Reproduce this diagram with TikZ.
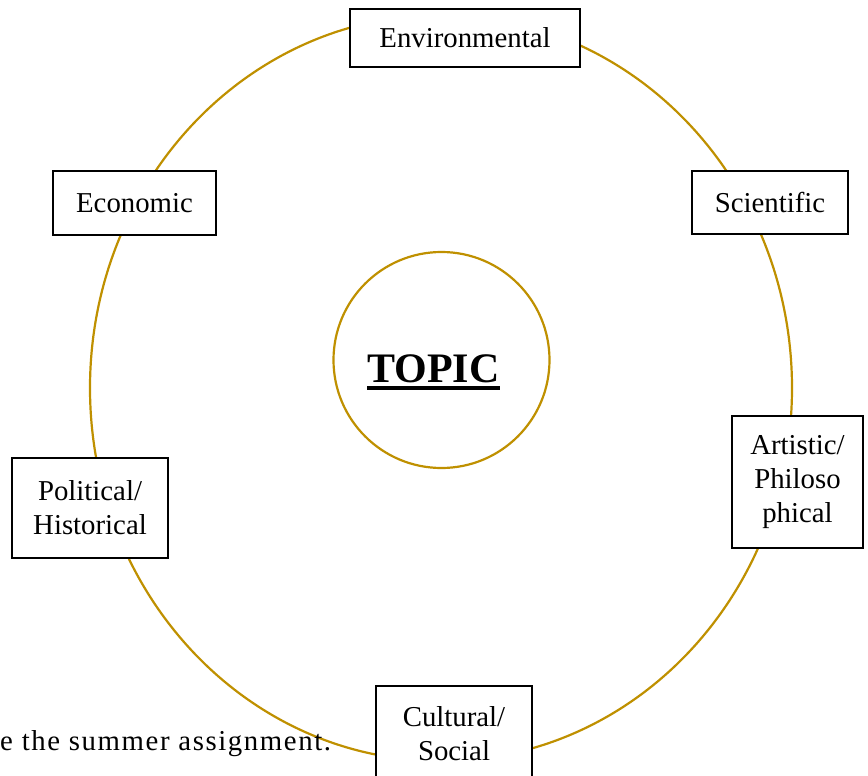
\documentclass[tikz,border=0pt]{standalone}
\usepackage{fontspec}
\setmainfont{Liberation Serif}
\definecolor{gold}{RGB}{191,144,0}
\newcommand\thickul[1]{\setbox0\hbox{#1}\rlap{\rule[-7.5pt]{\wd0}{4pt}}\box0}
\begin{document}
\begin{tikzpicture}[x=1pt,y=-1pt,
  ring/.style={draw=gold,line width=2.2pt},
  box/.style={draw,line width=2pt,fill=white,inner sep=0pt,align=center,
    font=\fontsize{28.8}{34}\selectfont}]
\useasboundingbox (0,0) rectangle (868,776);
\draw[ring](441,388) ellipse [x radius=351,y radius=373];
\node[circle,ring,minimum size=216pt,inner sep=0pt](hub) at (441.5,360){};
\node[anchor=base,font=\fontsize{42}{48}\selectfont\bfseries](topic) at (433.5,382){\thickul{TOPIC}};
\node[box,minimum width=230pt,minimum height=58pt](env) at (465,38){Environmental};
\node[box,minimum width=163pt,minimum height=64pt](econ) at (134.5,203){Economic};
\node[box,minimum width=156pt,minimum height=63pt](sci) at (770,202.5){Scientific};
\node[box,minimum width=131pt,minimum height=132pt](art) at (797.5,482){Artistic/\\Philoso\\phical};
\node[box,minimum width=156pt,minimum height=100pt](pol) at (90,508){Political/\\Historical};
\node[box,minimum width=156pt,minimum height=96pt](cult) at (454,734){Cultural/\\Social};
\node[anchor=base west,inner sep=0pt,font=\fontsize{28.8}{34}\selectfont\addfontfeature{LetterSpace=5.5}](note) at (0,750){e the summer assignment.};
\end{tikzpicture}
\end{document}
